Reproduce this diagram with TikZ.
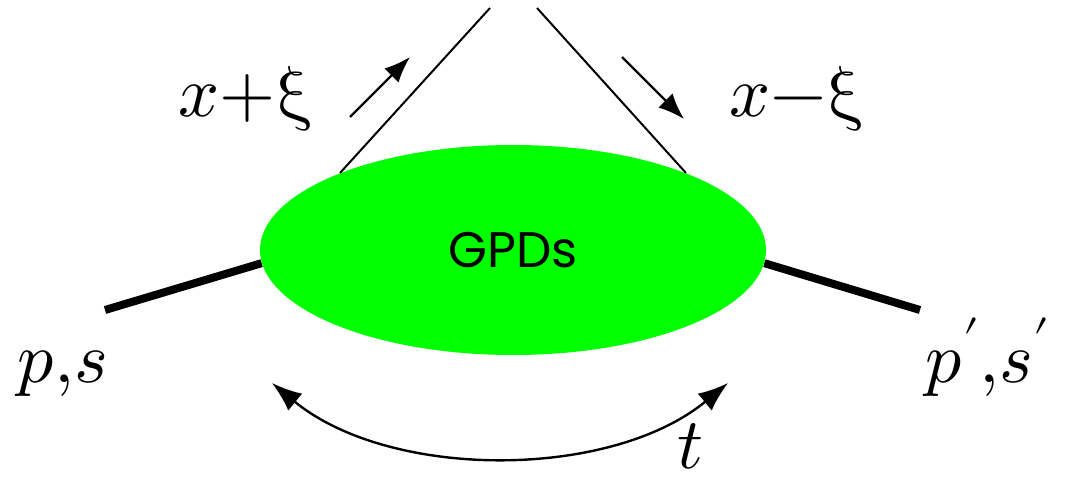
\documentclass[tikz,border=0pt]{standalone}
\usepackage{fontspec}
\usepackage{unicode-math}
\setmathfont{Latin Modern Math}
\newfontfamily\gpdfont{Poppins}
\usepackage{tikz}
\usetikzlibrary{shapes.geometric, arrows.meta, positioning}
\definecolor{GPD_Green}{HTML}{00FF00}

\begin{document}
\begin{tikzpicture}[x=0.5pt, y=-0.5pt,
    quark/.style={line width=1pt},
    hadron/.style={line width=4pt},
    flow/.style={line width=1.2pt, -{Latex[length=13pt, width=10pt]}},
    lbl/.style={font=\fontsize{36}{40}\selectfont, anchor=base, inner sep=0pt}]
    \useasboundingbox (0,0) rectangle (1067,481);
    % Blob
    \node[ellipse, fill=GPD_Green, minimum width=253pt, minimum height=105pt, inner sep=0pt,
          font=\gpdfont\fontsize{25}{30}\selectfont] (gpd) at (513,250) {GPDs};
    % Quark lines
    \coordinate (qin) at (490,8);
    \coordinate (qout) at (537,8);
    \draw[quark] (gpd.156) -- (qin);
    \draw[quark] (qout) -- (gpd.24);
    % Hadron lines
    \coordinate (pin) at (105,310);
    \coordinate (pout) at (920,310);
    \draw[hadron] (pin) -- (gpd.183);
    \draw[hadron] (gpd.-3) -- (pout);
    % Momentum flow
    \coordinate (fa) at (350,117); \coordinate (fb) at (410,57);
    \coordinate (fc) at (622,57);  \coordinate (fd) at (684,119);
    \draw[flow] (fa) -- (fb);
    \draw[flow] (fc) -- (fd);
    % Momentum transfer
    \coordinate (tL) at (272,383);
    \coordinate (tR) at (728,383);
    \draw[line width=1.2pt, {Latex[length=15pt, width=11pt]}-{Latex[length=15pt, width=11pt]}]
        (tL) .. controls (390,480) and (610,480) .. (tR);
    % Labels
    \node[lbl] (xplus) at (246,117) {$x{+}\upxi$};
    \node[lbl] (xminus) at (797,117) {$x{-}\upxi$};
    \node[lbl] (ps) at (63,382) {$p{,}s$};
    \node[lbl] (pps) at (988,382) {$p'{,}s'$};
    \node[lbl] (tlbl) at (690,468) {$t$};
\end{tikzpicture}
\end{document}
